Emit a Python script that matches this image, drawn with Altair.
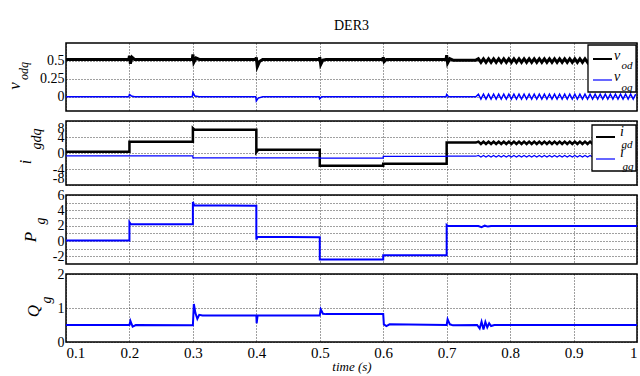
import altair as alt
import pandas as pd

FONT = "Liberation Serif, Times New Roman, DejaVu Serif, serif"
BLUE = "#0000ff"

X_TICKS = [0.1, 0.2, 0.3, 0.4, 0.5, 0.6, 0.7, 0.8, 0.9, 1.0]

# oscillation section (0.75 .. 1.0)
t_osc = [0.750, 0.754, 0.758, 0.762, 0.766, 0.770, 0.774, 0.778, 0.782, 0.786,
         0.790, 0.794, 0.798, 0.802, 0.806, 0.810, 0.814, 0.818, 0.822, 0.826,
         0.830, 0.834, 0.838, 0.842, 0.846, 0.850, 0.854, 0.858, 0.862, 0.866,
         0.870, 0.874, 0.878, 0.882, 0.886, 0.890, 0.894, 0.898, 0.902, 0.906,
         0.910, 0.914, 0.918, 0.922, 0.926, 0.930, 0.934, 0.938, 0.942, 0.946,
         0.950, 0.954, 0.958, 0.962, 0.966, 0.970, 0.974, 0.978, 0.982, 0.986,
         0.990, 0.994, 0.998]
vod_osc = [0.53, 0.48, 0.53, 0.48, 0.53, 0.48, 0.53, 0.48, 0.53, 0.48,
           0.53, 0.48, 0.53, 0.48, 0.53, 0.48, 0.53, 0.48, 0.53, 0.48,
           0.53, 0.48, 0.53, 0.48, 0.53, 0.48, 0.53, 0.48, 0.53, 0.48,
           0.53, 0.48, 0.53, 0.48, 0.53, 0.48, 0.53, 0.48, 0.53, 0.48,
           0.53, 0.48, 0.53, 0.48, 0.53, 0.48, 0.53, 0.48, 0.53, 0.48,
           0.53, 0.48, 0.53, 0.48, 0.53, 0.48, 0.53, 0.48, 0.53, 0.48,
           0.53, 0.48, 0.53]
voq_osc = [0.035, -0.035, 0.035, -0.035, 0.035, -0.035, 0.035, -0.035, 0.035, -0.035,
           0.035, -0.035, 0.035, -0.035, 0.035, -0.035, 0.035, -0.035, 0.035, -0.035,
           0.035, -0.035, 0.035, -0.035, 0.035, -0.035, 0.035, -0.035, 0.035, -0.035,
           0.035, -0.035, 0.035, -0.035, 0.035, -0.035, 0.035, -0.035, 0.035, -0.035,
           0.035, -0.035, 0.035, -0.035, 0.035, -0.035, 0.035, -0.035, 0.035, -0.035,
           0.035, -0.035, 0.035, -0.035, 0.035, -0.035, 0.035, -0.035, 0.035, -0.035,
           0.035, -0.035, 0.035]
igd_osc = [2.85, 2.25, 2.85, 2.25, 2.85, 2.25, 2.85, 2.25, 2.85, 2.25,
           2.85, 2.25, 2.85, 2.25, 2.85, 2.25, 2.85, 2.25, 2.85, 2.25,
           2.85, 2.25, 2.85, 2.25, 2.85, 2.25, 2.85, 2.25, 2.85, 2.25,
           2.85, 2.25, 2.85, 2.25, 2.85, 2.25, 2.85, 2.25, 2.85, 2.25,
           2.85, 2.25, 2.85, 2.25, 2.85, 2.25, 2.85, 2.25, 2.85, 2.25,
           2.85, 2.25, 2.85, 2.25, 2.85, 2.25, 2.85, 2.25, 2.85, 2.25,
           2.85, 2.25, 2.85]
igq_osc = [-0.6, -1.0, -0.6, -1.0, -0.6, -1.0, -0.6, -1.0, -0.6, -1.0,
           -0.6, -1.0, -0.6, -1.0, -0.6, -1.0, -0.6, -1.0, -0.6, -1.0,
           -0.6, -1.0, -0.6, -1.0, -0.6, -1.0, -0.6, -1.0, -0.6, -1.0,
           -0.6, -1.0, -0.6, -1.0, -0.6, -1.0, -0.6, -1.0, -0.6, -1.0,
           -0.6, -1.0, -0.6, -1.0, -0.6, -1.0, -0.6, -1.0, -0.6, -1.0,
           -0.6, -1.0, -0.6, -1.0, -0.6, -1.0, -0.6, -1.0, -0.6, -1.0,
           -0.6, -1.0, -0.6]

# v_od / v_oq (panel 1)
vod_t = [0.1, 0.199, 0.2, 0.2015, 0.204, 0.208, 0.299, 0.3, 0.3015, 0.305, 0.31,
         0.399, 0.4, 0.4015, 0.405, 0.41, 0.499, 0.5, 0.5015, 0.505, 0.51,
         0.599, 0.6, 0.6015, 0.605, 0.699, 0.7, 0.7015, 0.705, 0.71, 0.746]
vod_v = [0.52, 0.52, 0.57, 0.46, 0.55, 0.52, 0.52, 0.59, 0.48, 0.54, 0.52,
         0.52, 0.55, 0.42, 0.49, 0.52, 0.52, 0.55, 0.45, 0.51, 0.52,
         0.52, 0.55, 0.49, 0.52, 0.52, 0.58, 0.47, 0.53, 0.51, 0.51]
voq_t = [0.1, 0.199, 0.2, 0.203, 0.208, 0.299, 0.3, 0.303, 0.31, 0.399, 0.4,
         0.403, 0.41, 0.499, 0.5, 0.503, 0.51, 0.699, 0.7, 0.703, 0.71, 0.746]
voq_v = [0.0, 0.0, 0.03, 0.01, 0.0, 0.0, 0.06, 0.01, 0.0, 0.0, -0.06,
         -0.02, 0.0, 0.0, -0.03, 0.0, 0.0, 0.0, 0.03, 0.0, 0.0, 0.0]

# i_gd / i_gq (panel 2)
igd_t = [0.1, 0.2, 0.2, 0.3, 0.3, 0.302, 0.4, 0.4, 0.403, 0.5, 0.5, 0.6, 0.6, 0.7, 0.7, 0.746]
igd_v = [0.3, 0.3, 2.8, 2.8, 6.2, 5.9, 5.8, 0.2, 0.8, 0.8, -3.2, -3.2, -2.7, -2.7, 2.6, 2.6]
igq_t = [0.1, 0.3, 0.3, 0.5, 0.5, 0.6, 0.6, 0.7, 0.7, 0.746]
igq_v = [-0.7, -0.7, -1.2, -1.2, -1.3, -1.3, -0.85, -0.85, -0.8, -0.8]

# P_g (panel 3)
pg_t = [0.1, 0.2, 0.2, 0.202, 0.3, 0.3, 0.302, 0.4, 0.4, 0.402, 0.5, 0.5, 0.6, 0.6,
        0.7, 0.7, 0.702, 0.75, 0.755, 0.76, 0.765, 0.77, 1.0]
pg_v = [0.05, 0.05, 2.45, 2.2, 2.2, 5.1, 4.65, 4.6, 0.2, 0.55, 0.5, -2.4, -2.4, -1.85,
        -1.85, 2.1, 1.95, 1.95, 1.8, 2.0, 1.88, 1.95, 1.95]

# Q_g (panel 4)
qg_t = [0.1, 0.2, 0.2015, 0.205, 0.21, 0.3, 0.3015, 0.304, 0.307, 0.31, 0.315,
        0.4, 0.4005, 0.402, 0.41, 0.5, 0.5015, 0.505, 0.51, 0.6, 0.601, 0.605, 0.61,
        0.7, 0.7015, 0.705, 0.71, 0.748, 0.752, 0.755, 0.758, 0.761, 0.764, 0.767,
        0.77, 0.775, 1.0]
qg_v = [0.5, 0.5, 0.62, 0.45, 0.5, 0.49, 1.12, 0.85, 0.68, 0.8, 0.78,
        0.78, 0.55, 0.78, 0.78, 0.78, 0.96, 0.83, 0.82, 0.82, 0.52, 0.47, 0.52,
        0.5, 0.67, 0.52, 0.49, 0.5, 0.4, 0.6, 0.37, 0.59, 0.43, 0.55,
        0.47, 0.5, 0.5]


def sdf(t, v):
    return pd.DataFrame({"t": t, "v": v, "i": list(range(len(t)))})


one = pd.DataFrame({"a": [0]})
W = 571

grid_kw = dict(grid=True, gridDash=[1, 2], gridColor="#000", gridOpacity=0.75,
               gridWidth=1, ticks=False, domain=False, labelOverlap=False)


def x_axis(show):
    if show:
        return alt.Axis(values=X_TICKS, labelExpr="'' + datum.value", title="time (s)",
                        labelFont=FONT, labelFontSize=15, labelColor="#000", labelPadding=3,
                        titleFont=FONT, titleFontSize=13, titleFontStyle="italic",
                        titleFontWeight="normal", titleColor="#000", titlePadding=0,
                        **grid_kw)
    return alt.Axis(values=X_TICKS, labels=False, title=None, labelPadding=0, **grid_kw)


def y_axis(values, expr, flush=False):
    return alt.Axis(values=values, labelExpr=expr, title=None, labelFont=FONT,
                    labelFontSize=14, labelColor="#000", labelPadding=2,
                    labelFlush=flush, **grid_kw)


def line(df, color, width, dom, yax, show_x):
    return alt.Chart(df).mark_line(color=color, strokeWidth=width, clip=True,
                                   strokeJoin="miter").encode(
        x=alt.X("t:Q", scale=alt.Scale(domain=[0.1, 1.0], nice=False, zero=False),
                axis=x_axis(show_x)),
        y=alt.Y("v:Q", scale=alt.Scale(domain=dom, nice=False, zero=False), axis=yax),
        order="i:Q",
    )


def txt(s, x, y, size, angle=0):
    return alt.Chart(one).mark_text(text=s, font=FONT, fontSize=size, fontStyle="italic",
                                    angle=angle, align="center", baseline="middle",
                                    color="#000").encode(x=alt.value(x), y=alt.value(y))


def ylabel(main, sub, pos_main, pos_sub, size_main, size_sub):
    return [txt(main, pos_main[0], pos_main[1], size_main, 270),
            txt(sub, pos_sub[0], pos_sub[1], size_sub, 270)]


def legend(box, e1, e2):
    x0, x1, y0, y1 = box
    layers = [alt.Chart(one).mark_rect(fill="white", stroke="#000", strokeWidth=1.3).encode(
        x=alt.value(x0), x2=alt.value(x1), y=alt.value(y0), y2=alt.value(y1))]
    for (lx0, lx1, ly, col, lw, main, mpos, sub, spos) in (e1, e2):
        layers.append(alt.Chart(one).mark_rule(color=col, strokeWidth=lw).encode(
            x=alt.value(lx0), x2=alt.value(lx1), y=alt.value(ly)))
        layers.append(txt(main, mpos[0], mpos[1], 14))
        layers.append(txt(sub, spos[0], spos[1], 11))
    return layers


# Panel 1
ax1 = y_axis([0, 0.25, 0.5], "'' + datum.value")
p1 = alt.layer(
    line(sdf(vod_t + t_osc, vod_v + vod_osc), "#000", 3, [-0.2, 0.75], ax1, False),
    line(sdf(voq_t + t_osc, voq_v + voq_osc), BLUE, 1.5, [-0.2, 0.75], ax1, False),
    *legend((522, 570, 2, 49),
            (527, 546, 16, "#000", 2, "v", (551, 13), "od", (561, 23)),
            (527, 546, 37, BLUE, 1.2, "v", (551, 34), "oq", (561, 45))),
    *ylabel("v", "odq", (-51, 43), (-42, 28), 17, 12),
).properties(width=W, height=68,
             title=alt.TitleParams("DER3", font=FONT, fontSize=14, fontWeight="normal",
                                   color="#000", anchor="middle", offset=10))

# Panel 2
ax2 = y_axis([-8, -4, 0, 4, 8], "'' + datum.value", flush=True)
p2 = alt.layer(
    line(sdf(igd_t + t_osc, igd_v + igd_osc), "#000", 2.5, [-8, 8], ax2, False),
    line(sdf(igq_t + t_osc, igq_v + igq_osc), BLUE, 1.2, [-8, 8], ax2, False),
    *legend((526, 570, 4, 50),
            (530, 549, 16, "#000", 2, "i", (556, 11), "gd", (561, 24)),
            (530, 549, 38, BLUE, 1.2, "i", (556, 32), "gq", (562, 46))),
    *ylabel("i", "gdq", (-40, 41), (-29, 18), 16, 14),
).properties(width=W, height=64)

# Panel 3
ax3 = y_axis([-2, -1, 0, 1, 2, 3, 4, 5, 6],
             "datum.value % 2 == 0 ? '' + datum.value : ''")
p3 = alt.layer(
    line(sdf(pg_t, pg_v), BLUE, 2, [-3, 6], ax3, False),
    *ylabel("P", "g", (-35, 42), (-25, 26), 17, 14),
).properties(width=W, height=69)

# Panel 4
ax4 = y_axis([0, 1, 2], "'' + datum.value")
p4 = alt.layer(
    line(sdf(qg_t, qg_v), BLUE, 2, [0, 2], ax4, True),
    *ylabel("Q", "g", (-32, 37), (-19, 26), 17, 14),
).properties(width=W, height=68)

chart = alt.vconcat(p1, p2, p3, p4, spacing=10, bounds="flush").configure_view(
    stroke="#000", strokeWidth=1.5
).properties(padding={"left": 5, "top": 18, "right": 2, "bottom": 0})

chart.save("out.html", embed_options={"renderer": "svg", "actions": False})
